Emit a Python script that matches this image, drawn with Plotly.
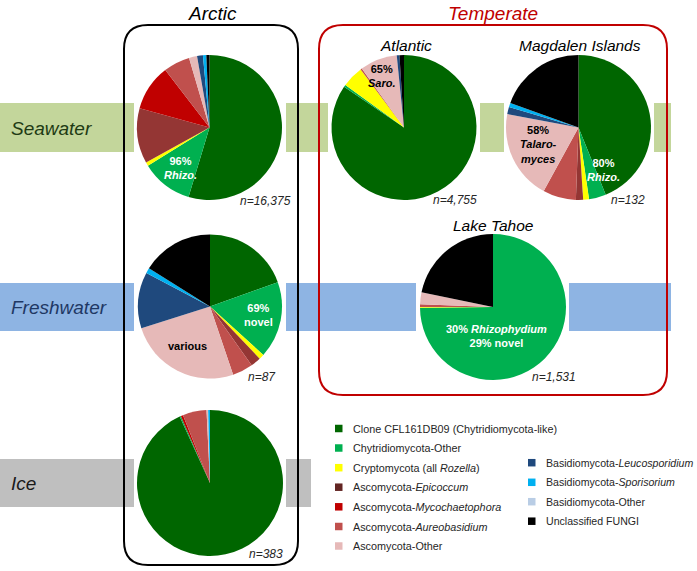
import plotly.graph_objects as go

W, H = 697, 571

categories = [
    "Clone CFL161DB09 (Chytridiomycota-like)",
    "Chytridiomycota-Other",
    "Cryptomycota (all Rozella)",
    "Ascomycota-Epicoccum",
    "Ascomycota-Mycochaetophora",
    "Ascomycota-Aureobasidium",
    "Ascomycota-Other",
    "Basidiomycota-Leucosporidium",
    "Basidiomycota-Sporisorium",
    "Basidiomycota-Other",
    "Unclassified FUNGI",
]
legend_labels = [
    "Clone CFL161DB09 (Chytridiomycota-like)",
    "Chytridiomycota-Other",
    "Cryptomycota (all <i>Rozella</i>)",
    "Ascomycota-<i>Epicoccum</i>",
    "Ascomycota-<i>Mycochaetophora</i>",
    "Ascomycota-<i>Aureobasidium</i>",
    "Ascomycota-Other",
    "Basidiomycota-<i>Leucosporidium</i>",
    "Basidiomycota-<i>Sporisorium</i>",
    "Basidiomycota-Other",
    "Unclassified FUNGI",
]
colors = ["#006600", "#00b050", "#ffff00", "#943634", "#c00000", "#c0504d",
          "#e6b9b8", "#1f497d", "#00b0f0", "#b9cde5", "#000000"]
legend_colors = ["#006600", "#00b050", "#ffff00", "#632523", "#c00000", "#c0504d",
                 "#e6b9b8", "#1f497d", "#00b0f0", "#b9cde5", "#000000"]

# percent of sequences per category
arctic_seawater = [54.7, 11.5, 0.8, 12.3, 10.3, 5.9, 1.8, 1.3, 0.75, 0.0, 0.7]
atlantic_seawater = [84.5, 0.5, 4.8, 0.0, 0.0, 0.3, 8.3, 0.6, 0.0, 0.0, 1.0]
magdalen_seawater = [43.9, 3.8, 1.3, 1.6, 0.0, 7.4, 20.0, 1.6, 0.95, 0.0, 19.5]
arctic_freshwater = [19.5, 17.2, 1.15, 2.3, 0.0, 4.6, 25.3, 12.6, 1.15, 0.0, 16.1]
tahoe_freshwater = [0.0, 74.9, 0.15, 0.0, 0.0, 0.6, 2.6, 0.0, 0.0, 0.0, 21.8]
arctic_ice = [92.8, 0.28, 0.0, 0.0, 0.5, 5.25, 0.36, 0.0, 0.4, 0.0, 0.0]

sample_sizes = ["n=16,375", "n=4,755", "n=132", "n=87", "n=1,531", "n=383"]
site_titles = ["Atlantic", "Magdalen Islands", "Lake Tahoe"]
habitats = ["Seawater", "Freshwater", "Ice"]
regions = ["Arctic", "Temperate"]

FONT = "Arial, Liberation Sans, sans-serif"

pies = [
    (arctic_seawater, 209.5, 127.5, 72.5),
    (atlantic_seawater, 404.0, 127.5, 72.5),
    (magdalen_seawater, 578.5, 127.5, 72.5),
    (arctic_freshwater, 210.0, 306.5, 72.0),
    (tahoe_freshwater, 493.0, 307.0, 73.0),
    (arctic_ice, 210.0, 483.0, 73.0),
]

fig = go.Figure()
for vals, cx, cy, r in pies:
    fig.add_trace(go.Pie(
        labels=categories, values=vals, sort=False, direction="clockwise",
        rotation=0, marker=dict(colors=colors, line=dict(width=0)),
        textinfo="none", hoverinfo="label+percent", showlegend=False,
        domain=dict(x=[(cx - r) / W, (cx + r) / W],
                    y=[1 - (cy + r) / H, 1 - (cy - r) / H]),
    ))

shapes = []
# habitat bands
band_specs = [
    ("#c3d69b", 103, 152, [(0, 134), (286, 328), (480, 504), (654, 671)]),
    ("#8eb4e3", 283, 331, [(0, 134), (286, 416), (569, 671)]),
    ("#bfbfbf", 459, 507, [(0, 134), (286, 311)]),
]
for col, y0, y1, segs in band_specs:
    for x0, x1 in segs:
        shapes.append(dict(type="rect", xref="x", yref="y", x0=x0, x1=x1, y0=y0, y1=y1,
                           fillcolor=col, line=dict(width=0), layer="below"))


def rounded(x0, y0, x1, y1, rr):
    return (f"M {x0+rr} {y0} L {x1-rr} {y0} Q {x1} {y0} {x1} {y0+rr} "
            f"L {x1} {y1-rr} Q {x1} {y1} {x1-rr} {y1} L {x0+rr} {y1} "
            f"Q {x0} {y1} {x0} {y1-rr} L {x0} {y0+rr} Q {x0} {y0} {x0+rr} {y0} Z")


shapes.append(dict(type="path", xref="x", yref="y", path=rounded(124, 25, 298, 565, 24),
                   line=dict(color="#000000", width=2), layer="above"))
shapes.append(dict(type="path", xref="x", yref="y", path=rounded(319, 25, 667, 395, 24),
                   line=dict(color="#c00000", width=2), layer="above"))

ann = []


def txt(x, y, s, size=11, color="#000000", anchor="center"):
    ann.append(dict(x=x, y=y, xref="x", yref="y", text=s, showarrow=False,
                    xanchor=anchor, yanchor="middle",
                    font=dict(family=FONT, size=size, color=color)))


# region titles
txt(212, 13, f"<i>{regions[0]}</i>", 19, "#000000")
txt(493, 13, f"<i>{regions[1]}</i>", 19, "#c00000")
# site titles
txt(406, 45, f"<i>{site_titles[0]}</i>", 15.5)
txt(580, 45, f"<i>{site_titles[1]}</i>", 15.5)
txt(493, 225, f"<i>{site_titles[2]}</i>", 15.5)
# habitat labels
txt(9, 128, f"<i>{habitats[0]}</i>", 19, "#1e3b14", "left")
txt(9, 307, f"<i>{habitats[1]}</i>", 19, "#1f3864", "left")
txt(9, 483, f"<i>{habitats[2]}</i>", 19, "#1a1a1a", "left")

# sample sizes
n_pos = [(265, 201), (455, 200), (628, 200), (262, 377), (554, 377), (266, 554)]
for (x, y), s in zip(n_pos, sample_sizes):
    txt(x, y, f"<i>{s}</i>", 12, "#262626")

# in-slice annotations
txt(180, 168, "<b>96%<br><i>Rhizo.</i></b>", 11, "#ffffff")
txt(382, 76, "<b>65%<br><i>Saro.</i></b>", 11, "#000000")
txt(538, 144, "<b>58%<br><i>Talaro-<br>myces</i></b>", 11, "#000000")
txt(603, 170, "<b>80%<br><i>Rhizo.</i></b>", 11, "#ffffff")
txt(258, 315, "<b>69%<br>novel</b>", 11, "#ffffff")
txt(187, 346, "<b>various</b>", 11, "#000000")
txt(496, 336, "<b>30% <i>Rhizophydium</i><br>29% novel</b>", 11, "#ffffff")

# legend
left_rows = [428.5, 448, 467.7, 487.2, 506.8, 526.5, 546]
right_rows = [462.7, 482.3, 501.7, 521.2]
for i, yy in enumerate(left_rows):
    shapes.append(dict(type="rect", xref="x", yref="y", x0=335, x1=342.5, y0=yy - 3.75, y1=yy + 3.75,
                       fillcolor=legend_colors[i], line=dict(width=0)))
    txt(351, yy, legend_labels[i], 10.8, "#262626", "left")
for j, yy in enumerate(right_rows):
    i = 7 + j
    shapes.append(dict(type="rect", xref="x", yref="y", x0=528, x1=535.5, y0=yy - 3.75, y1=yy + 3.75,
                       fillcolor=legend_colors[i], line=dict(width=0)))
    txt(543.5, yy, legend_labels[i], 10.6, "#262626", "left")

fig.update_layout(
    width=W, height=H, autosize=False,
    margin=dict(l=0, r=0, t=0, b=0),
    paper_bgcolor="#ffffff", plot_bgcolor="#ffffff",
    xaxis=dict(range=[0, W], visible=False, fixedrange=True),
    yaxis=dict(range=[H, 0], visible=False, fixedrange=True),
    shapes=shapes, annotations=ann, showlegend=False,
    font=dict(family=FONT),
)

fig.write_html("out.html", config={"displayModeBar": False},
               post_script="document.body.style.margin='0';")
